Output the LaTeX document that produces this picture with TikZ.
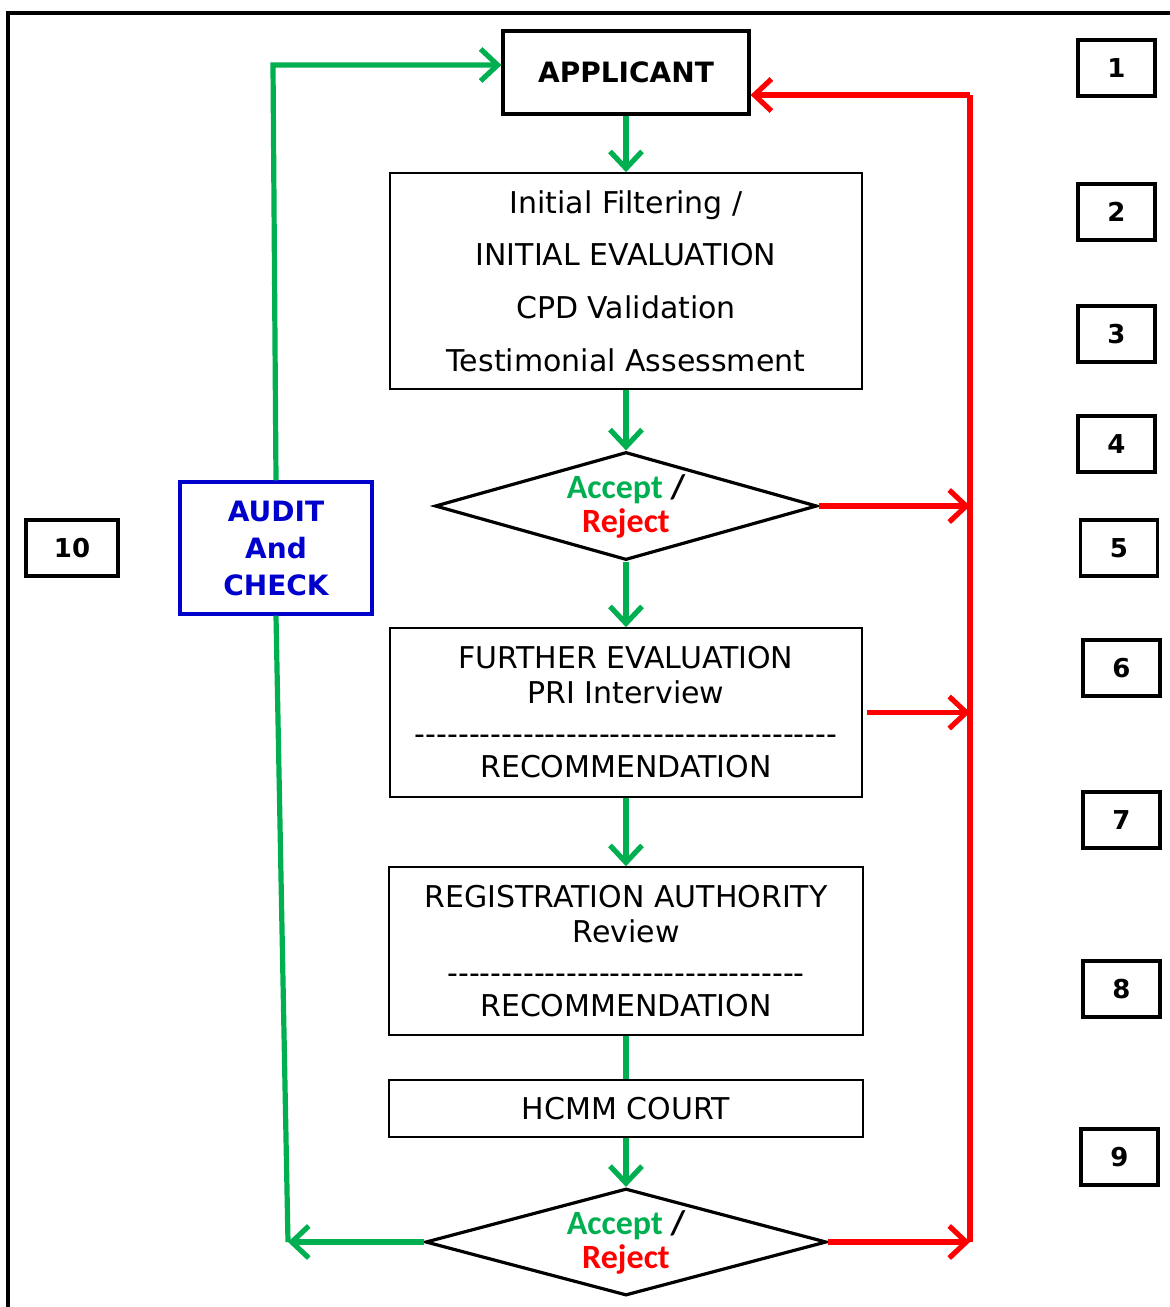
\documentclass[tikz,border=0pt]{standalone}
\usepackage{fontspec}
\setmainfont{DejaVu Sans}
\newfontfamily\hyfont{DejaVu Sans}
\newfontfamily\calib{Carlito}
\usetikzlibrary{arrows.meta,shapes.geometric}
\definecolor{gr}{HTML}{00B050}
\definecolor{rd}{HTML}{FF0000}
\definecolor{bl}{HTML}{0000CC}
\begin{document}
\begin{tikzpicture}[x=0.5pt,y=-0.5pt,
  box/.style={draw, line width=0.8pt, inner sep=0pt, align=center, font=\fontsize{15pt}{17.5pt}\selectfont},
  numbox/.style={draw, line width=1.6pt, minimum width=38.5pt, minimum height=28pt, inner sep=0pt, font=\bfseries\fontsize{13pt}{15pt}\selectfont},
  dec/.style={diamond, draw, line width=1.6pt, inner sep=0pt, aspect=3.6, align=center, font=\calib\bfseries\fontsize{17pt}{17pt}\selectfont},
  gline/.style={draw=gr, line width=2.6pt},
  rline/.style={draw=rd, line width=2.6pt},
  garrow/.style={gline, -{Straight Barb[length=8.5pt,width=16pt]}},
  rarrow/.style={rline, -{Straight Barb[length=8.5pt,width=16pt]}}]
\useasboundingbox (0,0) rectangle (1170,1307);
% outer frame (top and left edges visible)
\draw[line width=1.6pt] (8,1307) -- (8,13) -- (1170,13);

\node[draw, line width=1.6pt, minimum width=123pt, minimum height=41.5pt, inner sep=0pt,
      font=\bfseries\fontsize{14pt}{16pt}\selectfont] (app) at (626,72.5) {APPLICANT};
\node[box, minimum width=236pt, minimum height=108pt, font=\fontsize{15pt}{26.3pt}\selectfont]
  (b2) at (626,281) {Initial Filtering /\\INITIAL EVALUATION\\CPD Validation\\Testimonial Assessment};
\node[dec, minimum width=191pt, minimum height=54pt] (d1) at (626,506)
  {{\color{gr}Accept} /\\{\color{rd}Reject}};
\node[box, minimum width=236pt, minimum height=84.5pt] (fe) at (626,712.5)
  {FURTHER EVALUATION\\PRI Interview\\[3pt]{\hyfont ---------------------------------------}\\[-1pt]RECOMMENDATION};
\node[box, minimum width=237pt, minimum height=84pt] (ra) at (626,951)
  {REGISTRATION AUTHORITY\\Review\\[3pt]{\hyfont ---------------------------------}\\[-1pt]RECOMMENDATION};
\node[box, minimum width=237pt, minimum height=28.5pt] (hc) at (626,1108.5) {HCMM COURT};
\node[dec, minimum width=200.5pt, minimum height=53.5pt] (d2) at (626,1242)
  {{\color{gr}Accept} /\\{\color{rd}Reject}};
\node[draw=bl, line width=1.6pt, minimum width=96pt, minimum height=66pt, inner sep=0pt, align=center,
      text=bl, font=\bfseries\fontsize{14pt}{18.5pt}\selectfont] (au) at (276,548) {AUDIT\\And\\CHECK};

\node[numbox, minimum width=46pt] (n10) at (72,548) {10};
\node[numbox] (n1) at (1116.5,68) {1};
\node[numbox] (n2) at (1116.5,212) {2};
\node[numbox] (n3) at (1116.5,334) {3};
\node[numbox] (n4) at (1116.5,444) {4};
\node[numbox] (n5) at (1119,548) {5};
\node[numbox] (n6) at (1121.5,668) {6};
\node[numbox] (n7) at (1121.5,820) {7};
\node[numbox] (n8) at (1121.5,989) {8};
\node[numbox] (n9) at (1119.5,1157) {9};

% green flow
\draw[garrow] (app) -- (b2);
\draw[garrow] (b2) -- (d1);
\draw[garrow] (d1) -- (fe);
\draw[garrow] (fe) -- (ra);
\draw[gline] (ra) -- (hc);
\draw[garrow] (hc) -- (d2);
\coordinate (gc1) at (288,1242);
\coordinate (gc2) at (273,65);
\draw[garrow] (d2.west) -- (gc1);
\draw[gline] (au.south) -- (gc1);
\draw[garrow] (au.north) -- (gc2) -- (app.west |- gc2);

% red flow
\coordinate (rc1) at (970,95);
\coordinate (rc2) at (970,1242);
\draw[rline] (rc1) -- (rc2);
\draw[rarrow] (rc1) -- (app.east |- rc1);
\draw[rarrow] (d1.east) -- (d1.east -| rc1);
\draw[rarrow] ([xshift=2pt]fe.east) -- (fe.east -| rc1);
\draw[rarrow] (d2.east) -- (rc2);
\end{tikzpicture}
\end{document}
